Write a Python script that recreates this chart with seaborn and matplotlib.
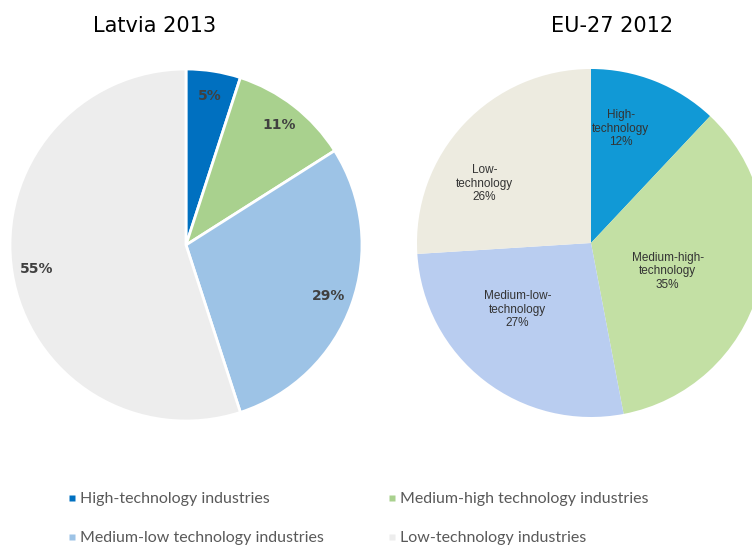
#!/usr/bin/env python3

import numpy as np
import seaborn as sns
from matplotlib import pyplot as plt
from matplotlib.lines import Line2D

# Data
categories = ['High-technology industries',
              'Medium-high technology industries',
              'Medium-low technology industries',
              'Low-technology industries']
latvia_2013 = [5, 11, 29, 55]
eu_short = ['High-\ntechnology', 'Medium-high-\ntechnology',
            'Medium-low-\ntechnology', 'Low-\ntechnology']
eu27_2012 = [12, 35, 27, 26]

latvia_colors = sns.color_palette(['#0070C0', '#A9D18E', '#9DC3E6', '#EDEDED'])
eu_colors = sns.color_palette(['#1199D6', '#C3E0A4', '#B9CDF0', '#EDEBE0'])


def draw_latvia(fig):
    # axes sized so the pie radius is ~176px, centre at (186, 245)
    ax = fig.add_axes([(186 - 176) / 752, (547 - 245 - 176) / 547,
                       352 / 752, 352 / 547])
    ax.pie(latvia_2013, colors=latvia_colors, startangle=90, counterclock=False,
           autopct='%d%%', pctdistance=0.86, radius=1,
           wedgeprops=dict(edgecolor='white', linewidth=2),
           textprops=dict(fontsize=10, fontweight='bold', color='#404040'))
    ax.set_xlim(-1, 1)
    ax.set_ylim(-1, 1)
    ax.axis('off')
    fig.text(155 / 752, 1 - 26 / 547, 'Latvia 2013', ha='center', va='center',
             fontsize=15, color='black')
    return ax


def draw_eu(fig):
    ax = fig.add_axes([(591 - 174) / 752, (547 - 243 - 174) / 547,
                       348 / 752, 348 / 547])
    wedges, _ = ax.pie(eu27_2012, colors=eu_colors, startangle=90,
                       counterclock=False, radius=1,
                       wedgeprops=dict(edgecolor='none'))
    # label placement (angle nudge in degrees, radial distance) per slice
    placement = [(7, 0.68), (-4, 0.47), (-10, 0.57), (14, 0.70)]
    for w, name, val, (nudge, dist) in zip(wedges, eu_short, eu27_2012, placement):
        ang = np.deg2rad((w.theta1 + w.theta2) / 2 + nudge)
        ax.text(dist * np.cos(ang), dist * np.sin(ang), f'{name}\n{val}%',
                ha='center', va='center', fontsize=8.5, color='#333333',
                family='Liberation Sans', linespacing=1.15)
    ax.set_xlim(-1, 1)
    ax.set_ylim(-1, 1)
    ax.axis('off')
    fig.text(612 / 752, 1 - 26 / 547, 'EU-27 2012', ha='center', va='center',
             fontsize=15, color='black')
    return ax


def draw_legend(fig):
    handles = [Line2D([], [], marker='s', linestyle='none', markersize=4,
                      markerfacecolor=c, markeredgecolor='none')
               for c in latvia_colors]
    # ncol=2 fills column-wise; reorder so rows read High / Medium-high
    order = [0, 2, 1, 3]
    leg = fig.legend([handles[i] for i in order], [categories[i] for i in order],
                     ncol=2, loc='upper left',
                     bbox_to_anchor=(67 / 752, 1 - 492 / 547),
                     frameon=False, borderpad=0, borderaxespad=0,
                     handlelength=0.6, handletextpad=0.2,
                     columnspacing=4.0, labelspacing=1.55,
                     prop=dict(family='Lato', size=11.5))
    for t in leg.get_texts():
        t.set_color('#595959')
    return leg


def main():
    sns.set_theme(style='white')
    plt.rcParams['font.family'] = ['DejaVu Sans']
    fig = plt.figure(figsize=(7.52, 5.47), dpi=100)
    fig.patch.set_facecolor('white')
    draw_latvia(fig)
    draw_eu(fig)
    draw_legend(fig)
    fig.savefig('out.png', dpi=100, facecolor='white')


if __name__ == "__main__":
    main()
